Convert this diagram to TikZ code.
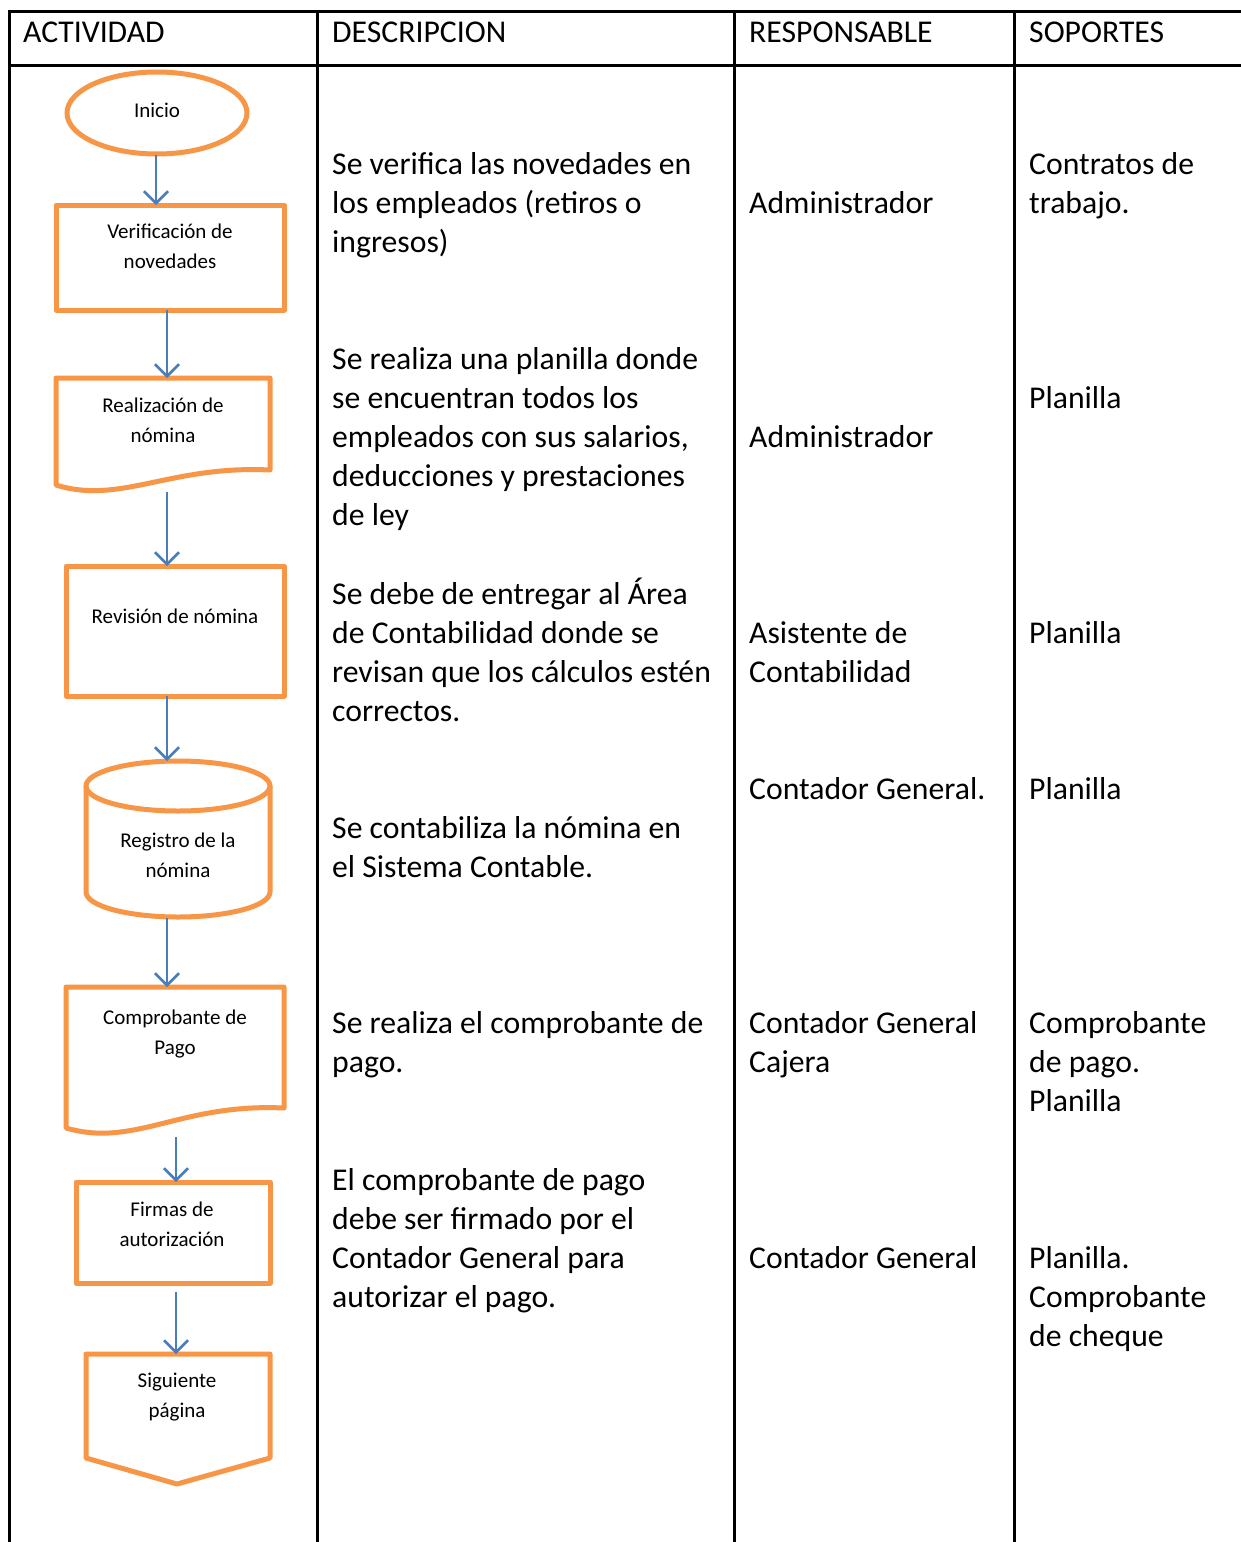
\documentclass[tikz,border=0pt]{standalone}
\usepackage{fontspec}
\setmainfont{Carlito}
\usetikzlibrary{arrows.meta}
\definecolor{shapeor}{HTML}{F79646}
\definecolor{arrowbl}{HTML}{4A7EBB}
\begin{document}
\begin{tikzpicture}[x=1pt,y=-1pt,
  grid/.style={line width=3pt, black},
  shp/.style={draw=shapeor, line width=5pt, line join=round},
  flow/.style={draw=arrowbl, line width=2.5pt, -{Straight Barb[length=12pt,width=24pt,line width=2.5pt]}},
  small/.style={font=\fontsize{21}{30}\selectfont, align=center, inner sep=0pt},
  body/.style={font=\fontsize{31.7}{39}\selectfont, align=left, inner sep=0pt, anchor=base west}]
\useasboundingbox (0,0) rectangle (1241,1542);
\fill[white] (0,0) rectangle (1241,1542);
% table
\draw[grid] (9,1545) -- (9,11) -- (1245,11);
\draw[grid] (9,65) -- (1245,65);
\draw[grid] (317,11) -- (317,1545);
\draw[grid] (734,11) -- (734,1545);
\draw[grid] (1014,11) -- (1014,1545);
% headers
\node[body] (h1) at (23,42) {ACTIVIDAD};
\node[body] (h2) at (332,42) {DESCRIPCION};
\node[body] (h3) at (749,42) {RESPONSABLE};
\node[body] (h4) at (1029,42) {SOPORTES};
% shapes
\draw[shp] (157,113) ellipse [x radius=90pt, y radius=41pt];
\node[small] (inicio) at (157,110) {Inicio};
\coordinate (inicioB) at (156,155);
\draw[shp] (56,205) rectangle (284,310);
\node[small] (verif) at (170,246) {Verificación de\\novedades};
\coordinate (verifT) at (156,205);
\coordinate (verifB) at (167,310);
\draw[shp] (56,378) -- (270,378) -- (270,470) .. controls (170,465) and (120,505) .. (56,485) -- cycle;
\node[small] (realiz) at (163,420) {Realización de\\nómina};
\coordinate (realizT) at (167,378);
\coordinate (realizB) at (167,492);
\draw[shp] (66,566) rectangle (284,696);
\node[small] (revis) at (175,616) {Revisión de nómina};
\coordinate (revisT) at (167,566);
\coordinate (revisB) at (167,696);
\draw[shp] (178,786) ellipse [x radius=92pt, y radius=25pt];
\draw[shp] (86,786) -- (86,892) arc[start angle=180, end angle=360, x radius=92pt, y radius=25pt] -- (270,786);
\node[small] (regis) at (178,855) {Registro de la\\nómina};
\coordinate (regisT) at (167,761);
\coordinate (regisB) at (167,918);
\draw[shp] (66,987) -- (284,987) -- (284,1108) .. controls (180,1103) and (135,1148) .. (66,1128) -- cycle;
\node[small] (compr) at (175,1034) {Comprobante de\\Pago};
\coordinate (comprT) at (167,987);
\coordinate (comprB) at (176,1137);
\draw[shp] (76,1182) rectangle (270,1283);
\node[small] (firmas) at (172,1224) {Firmas de\\autorización};
\coordinate (firmasT) at (176,1182);
\coordinate (firmasB) at (176,1292);
\draw[shp] (86,1354) -- (270,1354) -- (270,1458) -- (177,1484) -- (86,1458) -- cycle;
\node[small] (sig) at (177,1397) {Siguiente\\página};
\coordinate (sigT) at (176,1354);
% connectors
\draw[flow] (inicioB) -- (verifT);
\draw[flow] (verifB) -- (realizT);
\draw[flow] (realizB) -- (revisT);
\draw[flow] (revisB) -- (regisT);
\draw[flow] (regisB) -- (comprT);
\draw[flow] (comprB) -- (firmasT);
\draw[flow] (firmasB) -- (sigT);
% cells (anchor = baseline of last line)
\node[body] (d1) at (332,252) {Se verifica las novedades en\\los empleados (retiros o\\ingresos)};
\node[body] (r1) at (749,213) {Administrador};
\node[body] (s1) at (1029,213) {Contratos de\\trabajo.};
\node[body] (d2) at (332,525) {Se realiza una planilla donde\\se encuentran todos los\\empleados con sus salarios,\\deducciones y prestaciones\\de ley};
\node[body] (r2) at (749,447) {Administrador};
\node[body] (s2) at (1029,408) {Planilla};
\node[body] (d3) at (332,721) {Se debe de entregar al Área\\de Contabilidad donde se\\revisan que los cálculos estén\\correctos.};
\node[body] (r3) at (749,682) {Asistente de\\Contabilidad};
\node[body] (s3) at (1029,643) {Planilla};
\node[body] (r4) at (749,799) {Contador General.};
\node[body] (s4) at (1029,799) {Planilla};
\node[body] (d4) at (332,877) {Se contabiliza la nómina en\\el Sistema Contable.};
\node[body] (d5) at (332,1072) {Se realiza el comprobante de\\pago.};
\node[body] (r5) at (749,1072) {Contador General\\Cajera};
\node[body] (s5) at (1029,1111) {Comprobante\\de pago.\\Planilla};
\node[body] (d6) at (332,1307) {El comprobante de pago\\debe ser firmado por el\\Contador General para\\autorizar el pago.};
\node[body] (r6) at (749,1268) {Contador General};
\node[body] (s6) at (1029,1346) {Planilla.\\Comprobante\\de cheque};
\end{tikzpicture}
\end{document}
